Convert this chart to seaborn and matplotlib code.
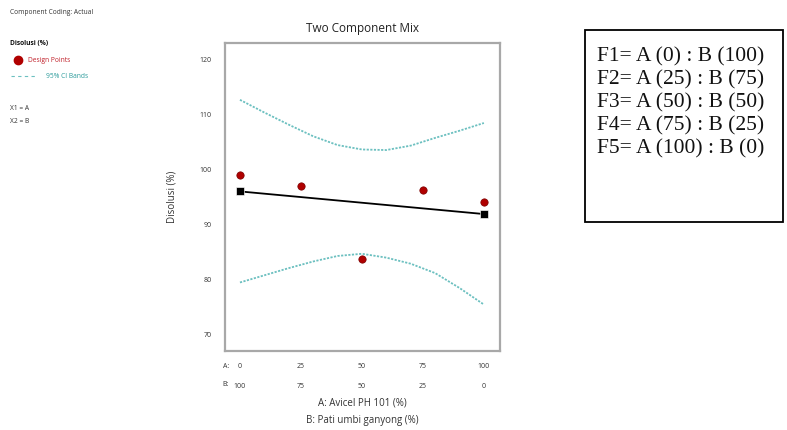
import matplotlib
matplotlib.use("Agg")
import matplotlib.pyplot as plt
import matplotlib.patches as patches
from matplotlib.lines import Line2D
import pandas as pd
import seaborn as sns

# design points (A %, Disolusi %)
design_a = [0, 25, 50, 75, 100]
design_b = [100, 75, 50, 25, 0]
disolusi = [98.9, 96.9, 83.7, 96.3, 94.0]

# fitted line end points
fit_a = [0, 100]
fit_y = [96.0, 91.9]

# 95% CI bands
ci_a = [0, 10, 20, 30, 40, 50, 60, 70, 80, 90, 100]
ci_upper = [112.6, 110.3, 108.1, 106.0, 104.4, 103.6, 103.5, 104.3, 105.7, 107.0, 108.4]
ci_lower = [79.5, 80.8, 82.1, 83.3, 84.3, 84.7, 84.0, 82.9, 81.2, 78.5, 75.5]

formulas = ["F1= A (0) : B (100)", "F2= A (25) : B (75)", "F3= A (50) : B (50)",
            "F4= A (75) : B (25)", "F5= A (100) : B (0)"]

sns.set_style("white")
plt.rcParams['font.family'] = ['Open Sans', 'DejaVu Sans']

pts = pd.DataFrame({'A': design_a, 'y': disolusi})
band = pd.DataFrame({'A': ci_a, 'up': ci_upper, 'lo': ci_lower})
fit = pd.DataFrame({'A': fit_a, 'y': fit_y})

fig = plt.figure(figsize=(7.87, 4.30), dpi=100)
ax = fig.add_axes([0.286, 0.184, 0.349, 0.716])

teal = '#6cc0c0'
sns.lineplot(data=band, x='A', y='up', ax=ax, color=teal, lw=1.3, linestyle=(0, (1.2, 0.8)))
sns.lineplot(data=band, x='A', y='lo', ax=ax, color=teal, lw=1.3, linestyle=(0, (1.2, 0.8)))
sns.lineplot(data=fit, x='A', y='y', ax=ax, color='black', lw=1.3)
sns.scatterplot(data=fit, x='A', y='y', ax=ax, color='black', marker='s', s=30, zorder=5)
sns.scatterplot(data=pts, x='A', y='y', ax=ax, color='#b00000', s=28, edgecolor='#7a0000',
                linewidth=0.5, zorder=6)

ax.set_xlim(-6.1, 106.5)
ax.set_ylim(67.1, 122.9)
ax.set_yticks([70, 80, 90, 100, 110, 120])
ax.set_xticks(design_a)
ax.set_xticklabels([f"{a}\n{b}" for a, b in zip(design_a, design_b)], linespacing=3.6)
ax.tick_params(axis='both', direction='out', length=6, width=0.8, colors='#555555',
               labelsize=5, labelcolor='#333333')
ax.tick_params(axis='x', pad=3)
for s in ax.spines.values():
    s.set_color('#a8a8a8')
    s.set_linewidth(1.6)
ax.set_xlabel('')
ax.set_ylabel('Disolusi (%)', fontsize=7, color='#333333', labelpad=16)
ax.set_title('Two Component Mix', fontsize=8.5, color='#222222', pad=8)

fig.text(0.283, 1 - 367 / 430, 'A:', fontsize=5, color='#333333', ha='left', va='center')
fig.text(0.283, 1 - 384 / 430, 'B:', fontsize=5, color='#333333', ha='left', va='center')
fig.text(362 / 787, 1 - 403 / 430, 'A: Avicel PH 101 (%)', fontsize=7, color='#333333',
         ha='center', va='center')
fig.text(362 / 787, 1 - 420 / 430, 'B: Pati umbi ganyong (%)', fontsize=7, color='#333333',
         ha='center', va='center')

# left legend block
fig.text(10 / 787, 1 - 13 / 430, 'Component Coding: Actual', fontsize=4.8, color='#333333',
         va='center')
fig.text(10 / 787, 1 - 44 / 430, 'Disolusi (%)', fontsize=4.8, color='#111111',
         fontweight='bold', va='center')
fig.add_artist(Line2D([18 / 787], [1 - 60 / 430], marker='o', color='#b00000', markersize=6,
                      transform=fig.transFigure))
fig.text(28 / 787, 1 - 60 / 430, 'Design Points', fontsize=4.8, color='#c0202a', va='center')
fig.add_artist(Line2D([11 / 787, 36 / 787], [1 - 76 / 430] * 2, color=teal, lw=0.8,
                      linestyle=(0, (3, 3)), transform=fig.transFigure))
fig.text(46 / 787, 1 - 76 / 430, '95% CI Bands', fontsize=4.8, color='#2a9a9a', va='center')
fig.text(10 / 787, 1 - 108 / 430, 'X1 = A', fontsize=4.8, color='#333333', va='center')
fig.text(10 / 787, 1 - 122 / 430, 'X2 = B', fontsize=4.8, color='#333333', va='center')

# formula box on the right
fig.add_artist(patches.Rectangle((585 / 787, 1 - 222 / 430), 198 / 787, 192 / 430,
                                 fill=False, edgecolor='black', lw=1.3,
                                 transform=fig.transFigure))
for i, f in enumerate(formulas):
    fig.text(597 / 787, 1 - (57 + 23 * i) / 430, f, fontsize=15.5, family='Liberation Serif',
             color='#111111', va='center')

fig.savefig('out.png', dpi=100)
